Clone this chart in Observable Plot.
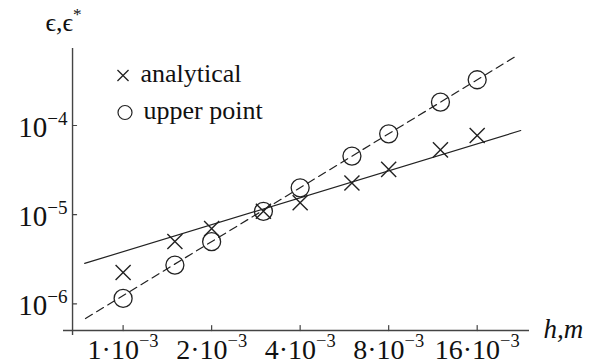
<!DOCTYPE html>
<html><head><meta charset="utf-8">
<script src="https://cdn.jsdelivr.net/npm/d3@7"></script>
<script src="https://cdn.jsdelivr.net/npm/@observablehq/plot@0.6"></script>
<style>
html,body{margin:0;padding:0;background:#fff}
#chart{width:598px;height:363px}
#chart svg text, #chart svg tspan{font-family:"Liberation Serif","Times New Roman",serif}
</style>
</head><body><div id="chart"></div>
<script>
// data
const h = [0.001, 0.0015, 0.002, 0.003, 0.004, 0.006, 0.008, 0.012, 0.016];
const analytical = [2.25e-6, 5.0e-6, 6.97e-6, 1.09e-5, 1.36e-5, 2.27e-5, 3.22e-5, 5.33e-5, 7.72e-5];
const upperPoint = [1.15e-6, 2.72e-6, 4.98e-6, 1.09e-5, 2.0e-5, 4.54e-5, 8.07e-5, 1.83e-4, 3.26e-4];
const fitHAnalytical = [0.00074, 0.0225];
const fitAnalytical = [2.84e-6, 8.79e-5];
const fitHUpper = [0.000745, 0.0219];
const fitUpper = [6.84e-7, 6.12e-4];
const xTicks = [0.001, 0.002, 0.004, 0.008, 0.016];
const xTickLabels = ["1·10^−3", "2·10^−3", "4·10^−3", "8·10^−3", "16·10^−3"];
const yTicks = [1e-6, 1e-5, 1e-4];
const yTickLabels = ["10^−6", "10^−5", "10^−4"];
const legendLabels = ["analytical", "upper point"];
const yLabel = "ϵ,ϵ^*";
const xLabel = "h,m";
const xDomain = [0.000627, 0.0241];
const yDomain = [4.41e-7, 7.31e-4];
const xCross = 0.000673, yCross = 5.01e-7;

const serif = "Liberation Serif";
const ink = "#222";
const axisInk = "#444";
const tickShape = {draw(context, l) { context.moveTo(0, 0); context.lineTo(0, -l); }};

const lineA = fitHAnalytical.map((x, i) => ({x, y: fitAnalytical[i]}));
const lineU = fitHUpper.map((x, i) => ({x, y: fitUpper[i]}));

const chart = Plot.plot({
  width: 598, height: 363,
  marginLeft: 63, marginRight: 69, marginTop: 48, marginBottom: 28,
  x: {type: "log", domain: xDomain, axis: null},
  y: {type: "log", domain: yDomain, axis: null},
  style: {background: "#fff", overflow: "visible"},
  marks: [
    Plot.ruleX([xCross], {stroke: axisInk, strokeWidth: 1.4}),
    Plot.ruleY([yCross], {stroke: axisInk, strokeWidth: 1.4}),
    Plot.vector(yTicks, {x: () => xCross, y: d => d, length: 4, rotate: 90, anchor: "start", shape: tickShape, stroke: axisInk, strokeWidth: 1.2}),
    Plot.vector(xTicks, {x: d => d, y: () => yCross, length: 5, rotate: 0, anchor: "start", shape: tickShape, stroke: axisInk, strokeWidth: 1.2}),
    Plot.line(lineA, {x: "x", y: "y", stroke: ink, strokeWidth: 1.2}),
    Plot.line(lineU, {x: "x", y: "y", stroke: ink, strokeWidth: 1.2, strokeDasharray: "8,5"}),
    Plot.dot(h, {x: d => d, y: (d, i) => analytical[i], symbol: "times", r: 6.9, stroke: ink, strokeWidth: 1.4, fill: "none"}),
    Plot.dot(h, {x: d => d, y: (d, i) => upperPoint[i], r: 9, stroke: ink, strokeWidth: 1.3, fill: "none"}),
    Plot.text(xTicks, {x: d => d, text: (d, i) => xTickLabels[i], frameAnchor: "bottom", dy: 23, lineAnchor: "bottom", textAnchor: "middle", fontSize: 28, fontFamily: serif, fill: "#111"}),
    Plot.text(yTicks, {y: d => d, text: (d, i) => yTickLabels[i], frameAnchor: "left", dx: 4, dy: 2, lineAnchor: "middle", textAnchor: "end", fontSize: 29, fontFamily: serif, fill: "#111"}),
    Plot.dot([0], {frameAnchor: "top-left", dx: 59.5, dy: 27, symbol: "times", r: 5.1, stroke: ink, strokeWidth: 1.3, fill: "none"}),
    Plot.dot([0], {frameAnchor: "top-left", dx: 61.5, dy: 64, r: 7, stroke: ink, strokeWidth: 1.2, fill: "none"}),
    Plot.text([legendLabels[0]], {frameAnchor: "top-left", dx: 77, dy: 33, lineAnchor: "bottom", textAnchor: "start", fontSize: 26, fontFamily: serif, fill: "#111"}),
    Plot.text([legendLabels[1]], {frameAnchor: "top-left", dx: 80, dy: 70, lineAnchor: "bottom", textAnchor: "start", fontSize: 26, fontFamily: serif, fill: "#111"}),
    Plot.text([yLabel], {frameAnchor: "top-left", dx: -18, dy: -18, lineAnchor: "bottom", textAnchor: "start", fontSize: 26, fontFamily: serif, fill: "#111"}),
    Plot.text([xLabel], {frameAnchor: "bottom-right", dx: 14, dy: 2, lineAnchor: "bottom", textAnchor: "start", fontSize: 27, fontStyle: "italic", fontFamily: serif, fill: "#111"})
  ]
});

// superscripts: split "base^sup"
chart.querySelectorAll("text").forEach(t => {
  const s = t.textContent;
  if (!s.includes("^")) return;
  const [base, sup] = s.split("^");
  const fs = parseFloat(t.getAttribute("font-size") || (t.parentNode && t.parentNode.getAttribute("font-size")) || 16);
  t.textContent = "";
  const ns = "http://www.w3.org/2000/svg";
  const a = document.createElementNS(ns, "tspan");
  a.textContent = base;
  const b = document.createElementNS(ns, "tspan");
  b.textContent = sup;
  b.setAttribute("font-size", (fs * 0.66).toFixed(1));
  b.setAttribute("dy", (-fs * 0.42).toFixed(1));
  t.appendChild(a); t.appendChild(b);
});

document.getElementById("chart").appendChild(chart);
</script>
</body></html>
